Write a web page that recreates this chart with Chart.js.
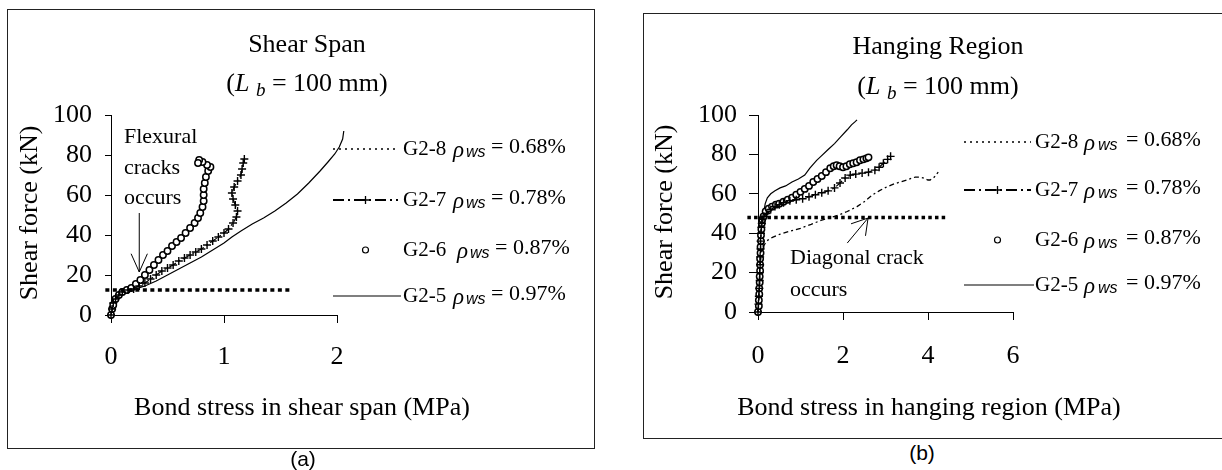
<!DOCTYPE html>
<html>
<head>
<meta charset="utf-8">
<script src="https://cdn.jsdelivr.net/npm/chart.js@4.4.0/dist/chart.umd.min.js"></script>
<style>
html, body { margin: 0; padding: 0; background: #fff; overflow: hidden; }
body { width: 1222px; height: 470px; position: relative; }
.panel { position: absolute; border: 1px solid #222; box-sizing: border-box; background: #fff; }
.panel canvas { display: block; }
#boxA { left: 7px; top: 9px; width: 588px; height: 440px; }
#boxB { left: 643px; top: 13px; width: 579px; height: 426px; border-right: none; }
.cap { position: absolute; width: 60px; text-align: center; font: 21px "Liberation Sans", Arial, sans-serif; line-height: 24px; }
</style>
</head>
<body>
<div id="boxA" class="panel"><canvas id="chartA" width="586" height="438"></canvas></div>
<div id="boxB" class="panel"><canvas id="chartB" width="578" height="424"></canvas></div>
<div class="cap" style="left:273px; top:447px;">(a)</div>
<div class="cap" style="left:892px; top:441px;">(b)</div>
<script>
// legend entries, same order in both panels
var seriesNames = ['G2-8', 'G2-7', 'G2-6', 'G2-5'];
var rhoValues = ['0.68%', '0.78%', '0.87%', '0.97%'];

// ---- (a) shear span ----
var shearG25X = [0, 0.01, 0.03, 0.06, 0.1, 0.15, 0.22, 0.3, 0.4, 0.5, 0.6, 0.7, 0.8, 0.9, 1.0, 1.07, 1.15, 1.25, 1.35, 1.45, 1.55, 1.65, 1.75, 1.85, 1.92, 1.98, 2.02, 2.05, 2.06];
var shearG25Y = [0, 2, 5, 8, 10.5, 12, 13, 14.5, 17, 20, 23, 26, 29, 32.5, 36, 39, 42, 45.5, 48.5, 52, 56, 60.5, 66, 72, 76.5, 80.5, 84, 88, 92];

var shearG27X = [0, 0.01, 0.02, 0.04, 0.07, 0.1, 0.15, 0.2, 0.25, 0.3, 0.35, 0.4, 0.45, 0.5, 0.55, 0.6, 0.65, 0.7, 0.75, 0.8, 0.85, 0.9, 0.95, 1.0, 1.04, 1.08, 1.11, 1.12, 1.1, 1.08, 1.07, 1.09, 1.12, 1.15, 1.16, 1.17, 1.18];
var shearG27Y = [0, 3, 6, 8, 10, 11.5, 12.5, 13, 14.5, 16, 18, 20, 22, 23.5, 25, 27, 28.5, 30, 31.5, 33, 35, 37, 39, 41, 43, 46, 49, 52, 55, 58, 61, 64, 67, 70, 73, 76, 78];

var shearG26X = [0, 0.01, 0.02, 0.04, 0.07, 0.1, 0.14, 0.18, 0.22, 0.26, 0.3, 0.34, 0.38, 0.42, 0.46, 0.5, 0.54, 0.58, 0.62, 0.66, 0.7, 0.74, 0.77, 0.79, 0.81, 0.82, 0.82, 0.82, 0.83, 0.84, 0.86, 0.88, 0.85, 0.81, 0.78, 0.77];
var shearG26Y = [0, 3, 5, 8, 10, 11.5, 12.5, 13.5, 15.5, 17.5, 20, 22.5, 25, 27.5, 30, 32, 34.5, 36.5, 38.5, 41, 43.5, 46, 48.5, 51, 54, 57, 60, 63, 66, 69, 72, 74, 75, 76.5, 77.5, 76];

var shearCrackX = [-0.05, 1.59];
var shearCrackY = [12.5, 12.5];

// ---- (b) hanging region ----
var hangG25X = [0, 0.02, 0.04, 0.05, 0.06, 0.08, 0.1, 0.13, 0.17, 0.22, 0.3, 0.4, 0.52, 0.65, 0.8, 0.95, 1.1, 1.22, 1.38, 1.48, 1.65, 1.8, 1.95, 2.1, 2.2, 2.28, 2.33];
var hangG25Y = [0, 8, 16, 24, 32, 40, 46, 50, 55, 58, 60, 61.5, 63, 64, 66, 67.5, 69.5, 73, 77, 79, 82.5, 85.5, 89, 92.5, 95, 96.5, 97.5];

var hangG27X = [0, 0.01, 0.02, 0.03, 0.04, 0.04, 0.05, 0.05, 0.06, 0.06, 0.07, 0.08, 0.09, 0.1, 0.14, 0.2, 0.3, 0.4, 0.5, 0.6, 0.75, 0.9, 1.05, 1.2, 1.35, 1.5, 1.65, 1.8, 1.93, 2.05, 2.17, 2.3, 2.45, 2.6, 2.75, 2.85, 2.95, 3.05, 3.12];
var hangG27Y = [0, 4, 8, 12, 16, 20, 24, 28, 32, 36, 40, 43, 45, 47, 48.5, 50, 52, 53.5, 54.5, 55.5, 56.5, 57, 57.5, 58.5, 59.5, 60.5, 61.5, 63, 65.5, 68, 69.5, 70, 70.5, 71, 72, 73.5, 75.5, 77.5, 79];

var hangG26X = [0, 0.02, 0.02, 0.03, 0.03, 0.04, 0.04, 0.05, 0.05, 0.05, 0.06, 0.06, 0.07, 0.07, 0.08, 0.09, 0.1, 0.13, 0.18, 0.25, 0.33, 0.42, 0.5, 0.6, 0.7, 0.8, 0.9, 1.0, 1.1, 1.2, 1.3, 1.4, 1.5, 1.6, 1.7, 1.78, 1.85, 1.92, 2.0, 2.08, 2.16, 2.24, 2.32, 2.4, 2.48, 2.55, 2.6];
var hangG26Y = [0, 3, 6, 9, 12, 15, 18, 21, 24, 27, 30, 33, 36, 39, 42, 45, 47, 48.5, 51, 52.5, 53.5, 54.5, 55, 56, 57, 58, 59.5, 61, 62.5, 64, 66, 67.5, 69, 71, 73, 74, 74.5, 74, 73.5, 74, 75, 75.5, 76, 77, 77.5, 78, 78.5];

var hangG28X = [0, 0.02, 0.03, 0.05, 0.08, 0.12, 0.2, 0.3, 0.52, 0.75, 1.0, 1.25, 1.48, 1.62, 1.8, 1.93, 2.1, 2.33, 2.5, 2.7, 2.85, 3.03, 3.2, 3.35, 3.5, 3.7, 3.8, 3.9, 4.0, 4.05, 4.15, 4.24];
var hangG28Y = [0, 8, 16, 24, 30, 33, 36, 37.5, 39.5, 41, 42.5, 44.5, 46.5, 47.5, 48.5, 49.5, 51, 53.5, 56, 59.5, 61.5, 63.5, 65, 66, 67, 68.5, 68.5, 68, 67, 67, 68.5, 71];

var hangCrackX = [-0.25, 4.45];
var hangCrackY = [48, 48];

var SERIF = '"Liberation Serif", "Times New Roman", serif';
var SANS = '"Liberation Sans", Arial, sans-serif';

function pts(xs, ys) {
    return xs.map(function (x, i) { return { x: x, y: ys[i] }; });
}
function solidSet(xs, ys) {
    return { data: pts(xs, ys), showLine: true, borderColor: '#000', borderWidth: 1.2, pointRadius: 0, clip: false };
}
function crossSet(xs, ys) {
    return { data: pts(xs, ys), showLine: true, borderColor: '#000', borderWidth: 1.2, borderDash: [8, 3, 2, 3],
             pointStyle: 'cross', pointRadius: 4, pointBorderWidth: 1.4, pointBorderColor: '#000', clip: false };
}
function circleSet(xs, ys) {
    return { data: pts(xs, ys), showLine: false, pointStyle: 'circle', pointRadius: 3.2, pointBorderWidth: 1.5,
             pointBorderColor: '#000', pointBackgroundColor: '#fff', clip: false };
}
function dashSet(xs, ys) {
    return { data: pts(xs, ys), showLine: true, borderColor: '#000', borderWidth: 1.3, borderDash: [5, 3, 2, 3], pointRadius: 0, clip: false };
}
function crackSet(xs, ys, dash) {
    return { data: pts(xs, ys), showLine: true, borderColor: '#000', borderWidth: 3.5, borderDash: dash, pointRadius: 0, clip: false };
}

function font(style, size, fam) { return style + ' ' + size + 'px ' + fam; }

function drawArrow(ctx, x1, y1, x2, y2, len, spread) {
    var a = Math.atan2(y2 - y1, x2 - x1);
    ctx.beginPath();
    ctx.moveTo(x1, y1); ctx.lineTo(x2, y2);
    ctx.moveTo(x2 - len * Math.cos(a - spread), y2 - len * Math.sin(a - spread));
    ctx.lineTo(x2, y2);
    ctx.lineTo(x2 - len * Math.cos(a + spread), y2 - len * Math.sin(a + spread));
    ctx.stroke();
}

function drawSample(ctx, kind, x1, x2, y) {
    ctx.save();
    ctx.strokeStyle = '#000';
    ctx.beginPath();
    if (kind === 'dot') {
        ctx.lineWidth = 1.5; ctx.setLineDash([2, 4]);
        ctx.moveTo(x1, y); ctx.lineTo(x2, y); ctx.stroke();
    } else if (kind === 'dashdot') {
        ctx.lineWidth = 2; ctx.setLineDash([11, 4, 2, 4]);
        ctx.moveTo(x1, y); ctx.lineTo(x2, y); ctx.stroke();
        ctx.setLineDash([]); ctx.lineWidth = 1.3;
        var m = (x1 + x2) / 2;
        ctx.beginPath();
        ctx.moveTo(m - 4, y); ctx.lineTo(m + 4, y);
        ctx.moveTo(m, y - 4); ctx.lineTo(m, y + 4);
        ctx.stroke();
    } else if (kind === 'circle') {
        ctx.lineWidth = 1.2; ctx.fillStyle = '#fff';
        ctx.arc((x1 + x2) / 2, y, 3, 0, Math.PI * 2);
        ctx.fill(); ctx.stroke();
    } else {
        ctx.lineWidth = 1.2;
        ctx.moveTo(x1, y); ctx.lineTo(x2 + 3, y); ctx.stroke();
    }
    ctx.restore();
}

function drawDecor(chart, d) {
    var ctx = chart.ctx;
    var xs = chart.scales.x, ys = chart.scales.y;
    ctx.save();
    ctx.fillStyle = '#000';
    ctx.strokeStyle = '#000';

    // title
    ctx.textAlign = 'center'; ctx.textBaseline = 'middle';
    ctx.font = font('', 26, SERIF);
    ctx.fillText(d.title, d.titleX, d.titleY);

    // (L b = 100 mm)
    var parts = [
        { t: '(', f: font('', 26, SERIF), dy: 0 },
        { t: 'L', f: font('italic', 26, SERIF), dy: 0 },
        { t: ' ', f: font('', 26, SERIF), dy: 0 },
        { t: 'b', f: font('italic', 19, SERIF), dy: 5 },
        { t: ' = 100 mm)', f: font('', 26, SERIF), dy: 0 }
    ];
    var w = 0;
    parts.forEach(function (p) { ctx.font = p.f; w += ctx.measureText(p.t).width; });
    var cx = d.titleX - w / 2;
    ctx.textAlign = 'left'; ctx.textBaseline = 'alphabetic';
    parts.forEach(function (p) {
        ctx.font = p.f; ctx.fillText(p.t, cx, d.subY + 9 + p.dy);
        cx += ctx.measureText(p.t).width;
    });

    // axis titles
    ctx.textAlign = 'center'; ctx.textBaseline = 'middle';
    ctx.font = font('', 26, SERIF);
    ctx.fillText(d.xTitle, d.xTitleX, d.xTitleY);
    ctx.save();
    ctx.translate(d.yTitleX, d.yTitleY);
    ctx.rotate(-Math.PI / 2);
    ctx.fillText('Shear force (kN)', 0, 0);
    ctx.restore();

    // legend
    var kinds = ['dot', 'dashdot', 'circle', 'solid'];
    d.rows.forEach(function (ry, i) {
        drawSample(ctx, kinds[i], d.lx1, d.lx2, ry + 2);
        var sh = (i === 2) ? d.g26Shift : 0;
        ctx.textAlign = 'left'; ctx.textBaseline = 'alphabetic';
        ctx.font = font('', 21, SERIF);
        ctx.fillText(seriesNames[i], d.tx, ry + 8);
        ctx.font = font('italic', 23, SERIF);
        ctx.fillText('\u03c1', d.tx + d.rhoDx + sh, ry + 10);
        ctx.font = font('italic', 16, SANS);
        ctx.fillText('ws', d.tx + d.wsDx + sh, ry + 10);
        ctx.font = font('', 22, SERIF);
        ctx.fillText('= ' + rhoValues[i], d.tx + d.eqDx + sh, ry + 6);
    });

    // note text
    ctx.font = font('', 22, SERIF);
    ctx.textAlign = 'left'; ctx.textBaseline = 'middle';
    d.notes.forEach(function (n) { ctx.fillText(n[0], n[1], n[2]); });

    // arrow
    ctx.lineWidth = 1;
    drawArrow(ctx, xs.getPixelForValue(d.arrow[0]), ys.getPixelForValue(d.arrow[1]),
              xs.getPixelForValue(d.arrow[2]), ys.getPixelForValue(d.arrow[3]), d.arrow[4], d.arrow[5]);
    ctx.restore();
}

function makeChart(id, cfg) {
    return new Chart(document.getElementById(id), {
        type: 'scatter',
        data: { datasets: cfg.datasets },
        options: {
            responsive: false,
            animation: false,
            layout: { padding: cfg.pad },
            plugins: { legend: { display: false }, tooltip: { enabled: false } },
            scales: {
                x: {
                    type: 'linear',
                    // range set here (not via min/max) so points past the axis end are still drawn
                    afterDataLimits: function (s) { s.min = 0; s.max = cfg.xMax; },
                    afterFit: function (s) { s.height = 70; },
                    ticks: { stepSize: cfg.xStep, padding: cfg.xPad, color: '#000', font: { family: SERIF, size: 26 } },
                    grid: { drawOnChartArea: false, drawTicks: true, tickLength: 8, tickColor: '#000' },
                    border: { display: true, color: '#000', width: 1 }
                },
                y: {
                    type: 'linear', min: 0, max: 100,
                    afterFit: function (s) { s.width = cfg.yWidth; },
                    ticks: { stepSize: 20, padding: cfg.yPad, color: '#000', font: { family: SERIF, size: 26 } },
                    grid: { drawOnChartArea: false, drawTicks: true, tickLength: cfg.yTick, tickColor: '#000' },
                    border: { display: true, color: '#000', width: 1 }
                }
            }
        },
        plugins: [{ id: 'decor', afterDraw: function (c) { drawDecor(c, cfg.decor); } }]
    });
}

makeChart('chartA', {
    datasets: [
        crackSet(shearCrackX, shearCrackY, [4, 3.5]),
        crossSet(shearG27X, shearG27Y),
        circleSet(shearG26X, shearG26Y),
        solidSet(shearG25X, shearG25Y)
    ],
    pad: { left: 0, top: 105, right: 257, bottom: 63 },
    xMax: 2, xStep: 1, xPad: 19, yWidth: 103, yPad: 13, yTick: 6,
    decor: {
        title: 'Shear Span', titleX: 299, titleY: 35, subY: 72,
        xTitle: 'Bond stress in shear span (MPa)', xTitleX: 294, xTitleY: 398,
        yTitleX: 22, yTitleY: 203,
        rows: [137, 188, 238, 284], lx1: 325, lx2: 390, tx: 395,
        rhoDx: 50, wsDx: 63, eqDx: 88, g26Shift: 4,
        notes: [['Flexural', 116, 127], ['cracks', 116, 158], ['occurs', 116, 188]],
        arrow: [0.25, 51, 0.25, 21.5, 20, 0.42]
    }
});

makeChart('chartB', {
    datasets: [
        crackSet(hangCrackX, hangCrackY, [3.5, 3.2]),
        dashSet(hangG28X, hangG28Y),
        crossSet(hangG27X, hangG27Y),
        circleSet(hangG26X, hangG26Y),
        solidSet(hangG25X, hangG25Y)
    ],
    pad: { left: 0, top: 101, right: 209, bottom: 56 },
    xMax: 6, xStep: 2, xPad: 21, yWidth: 114, yPad: 12, yTick: 9,
    decor: {
        title: 'Hanging Region', titleX: 294, titleY: 33, subY: 71,
        xTitle: 'Bond stress in hanging region (MPa)', xTitleX: 285, xTitleY: 394,
        yTitleX: 21, yTitleY: 198,
        rows: [126, 174, 224, 269], lx1: 320, lx2: 387, tx: 391,
        rhoDx: 49, wsDx: 63, eqDx: 91, g26Shift: 0,
        notes: [['Diagonal crack', 146, 244], ['occurs', 146, 276]],
        arrow: [2.1, 35, 2.59, 47.7, 18, 0.55]
    }
});
</script>
</body>
</html>
